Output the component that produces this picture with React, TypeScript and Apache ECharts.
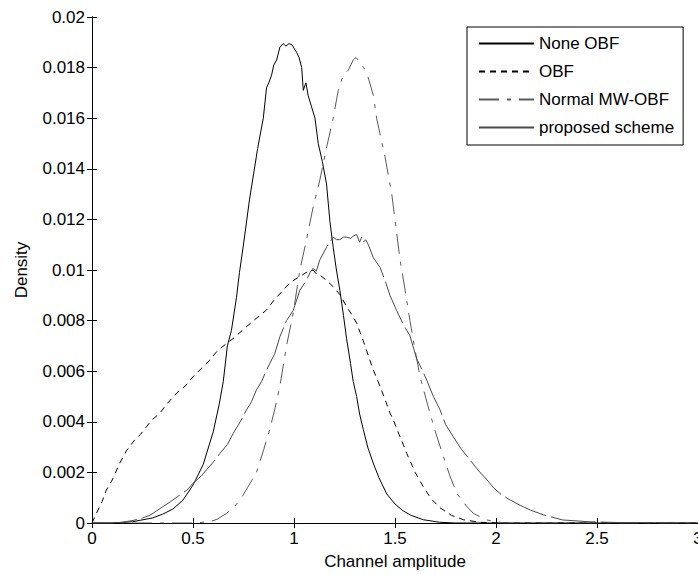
import React, { useEffect, useRef } from "react";
import * as echarts from "echarts";

// Tick values
const xTicks = [0, 0.5, 1, 1.5, 2, 2.5, 3];
const yMax = 0.02;
const yStep = 0.002;

// Series names
const seriesNames = ["None OBF", "OBF", "Normal MW-OBF", "proposed scheme"];

// None OBF  (density in units of 1e-3)
const noneX = [0, 0.1, 0.2, 0.3, 0.35, 0.4, 0.45, 0.5, 0.55, 0.6, 0.63, 0.65, 0.67, 0.69, 0.715, 0.73, 0.748, 0.765, 0.78, 0.8, 0.82, 0.848, 0.864, 0.875, 0.889, 0.9, 0.914, 0.93, 0.946, 0.96, 0.975, 0.99, 1.013, 1.025, 1.038, 1.046, 1.059, 1.07, 1.087, 1.104, 1.12, 1.14, 1.161, 1.178, 1.194, 1.21, 1.227, 1.245, 1.26, 1.28, 1.293, 1.31, 1.325, 1.343, 1.365, 1.392, 1.42, 1.459, 1.5, 1.54, 1.58, 1.64, 1.72, 1.8, 2.0, 3.0];
const noneY = [0, 0, 0.05, 0.2, 0.35, 0.55, 0.9, 1.5, 2.3, 3.6, 4.7, 5.6, 7.0, 7.6, 8.9, 9.9, 10.9, 11.9, 12.8, 13.8, 14.8, 16.0, 17.2, 17.4, 17.7, 18.1, 18.3, 18.8, 18.95, 18.85, 18.95, 18.9, 18.6, 18.4, 18.0, 17.1, 17.4, 16.9, 16.45, 16.0, 15.0, 14.3, 13.4, 11.9, 10.9, 10.0, 9.2, 8.2, 7.3, 6.3, 5.6, 5.0, 4.3, 3.7, 3.0, 2.37, 1.8, 1.15, 0.75, 0.48, 0.3, 0.13, 0.03, 0, 0, 0];

// OBF
const obfX = [0, 0.02, 0.05, 0.071, 0.1, 0.137, 0.17, 0.211, 0.24, 0.269, 0.3, 0.335, 0.37, 0.418, 0.46, 0.5, 0.54, 0.583, 0.62, 0.666, 0.7, 0.765, 0.8, 0.864, 0.9, 0.946, 0.98, 1.0, 1.029, 1.06, 1.095, 1.11, 1.128, 1.16, 1.194, 1.23, 1.26, 1.293, 1.31, 1.343, 1.36, 1.39, 1.426, 1.45, 1.475, 1.492, 1.52, 1.541, 1.558, 1.6, 1.64, 1.68, 1.723, 1.78, 1.838, 1.92, 2.0, 3.0];
const obfY = [0, 0.35, 0.85, 1.3, 1.7, 2.36, 2.85, 3.28, 3.5, 3.8, 4.1, 4.33, 4.7, 5.13, 5.4, 5.78, 6.1, 6.44, 6.8, 7.1, 7.3, 7.76, 8.0, 8.42, 8.8, 9.2, 9.5, 9.6, 9.74, 9.9, 10.0, 9.85, 9.8, 9.6, 9.34, 9.0, 8.55, 8.15, 7.9, 7.2, 6.8, 6.1, 5.4, 4.9, 4.35, 4.07, 3.5, 3.1, 2.75, 2.0, 1.43, 0.95, 0.6, 0.3, 0.13, 0.03, 0, 0];

// Normal MW-OBF
const mwX = [0, 0.5, 0.583, 0.62, 0.666, 0.7, 0.732, 0.77, 0.814, 0.85, 0.88, 0.905, 0.93, 0.963, 0.996, 1.029, 1.062, 1.095, 1.128, 1.16, 1.194, 1.219, 1.244, 1.269, 1.293, 1.307, 1.327, 1.345, 1.36, 1.393, 1.409, 1.45, 1.484, 1.525, 1.55, 1.574, 1.6, 1.624, 1.673, 1.7, 1.74, 1.77, 1.806, 1.85, 1.888, 1.954, 2.04, 3.0];
const mwY = [0, 0, 0.05, 0.15, 0.38, 0.6, 0.9, 1.4, 2.0, 2.9, 3.7, 4.5, 5.4, 7.0, 8.3, 10.0, 11.2, 12.5, 13.56, 14.8, 16.0, 17.1, 17.7, 17.9, 18.3, 18.4, 18.2, 18.0, 17.8, 16.9, 16.0, 14.5, 13.0, 10.4, 9.2, 8.0, 6.8, 5.78, 4.34, 3.6, 2.62, 1.9, 1.17, 0.7, 0.38, 0.12, 0, 0];

// proposed scheme
const propX = [0, 0.1, 0.15, 0.203, 0.25, 0.286, 0.32, 0.352, 0.39, 0.434, 0.47, 0.5, 0.54, 0.567, 0.6, 0.633, 0.67, 0.699, 0.73, 0.765, 0.79, 0.814, 0.84, 0.864, 0.905, 0.93, 0.963, 0.996, 1.029, 1.062, 1.08, 1.095, 1.11, 1.128, 1.161, 1.194, 1.21, 1.227, 1.245, 1.26, 1.28, 1.295, 1.31, 1.325, 1.335, 1.343, 1.355, 1.368, 1.392, 1.426, 1.45, 1.475, 1.508, 1.541, 1.574, 1.607, 1.64, 1.657, 1.69, 1.723, 1.75, 1.789, 1.83, 1.872, 1.91, 1.956, 1.99, 2.03, 2.07, 2.12, 2.17, 2.236, 2.33, 2.46, 2.6, 2.8, 3.0];
const propY = [0, 0, 0.03, 0.1, 0.2, 0.3, 0.48, 0.65, 0.85, 1.1, 1.3, 1.57, 1.85, 2.1, 2.4, 2.75, 3.1, 3.54, 3.95, 4.47, 4.8, 5.26, 5.6, 6.05, 6.7, 7.36, 8.0, 8.4, 9.2, 9.6, 9.9, 10.07, 9.95, 10.4, 10.9, 11.3, 11.2, 11.2, 11.3, 11.3, 11.25, 11.35, 11.4, 11.1, 11.3, 11.1, 11.2, 11.0, 10.5, 10.1, 9.6, 9.0, 8.4, 7.85, 7.4, 6.5, 5.95, 5.65, 5.0, 4.47, 3.9, 3.4, 2.9, 2.49, 2.1, 1.7, 1.37, 1.1, 0.91, 0.7, 0.51, 0.32, 0.12, 0.05, 0.02, 0.01, 0];

const FONT = "'Liberation Sans', Arial, Helvetica, sans-serif";

function pairs(xs: number[], ys: number[]) {
  return xs.map((x, i) => [x, ys[i] * 1e-3]);
}

export default function App() {
  const ref = useRef<HTMLDivElement>(null);
  useEffect(() => {
    document.body.style.margin = "0";
    if (!ref.current) return;
    const chart = echarts.init(ref.current, undefined, { renderer: "svg" });
    const axisCommon = {
      axisLine: { show: true, lineStyle: { color: "#000", width: 1 } },
      axisTick: { show: true, inside: true, length: 5, lineStyle: { color: "#000" } },
      splitLine: { show: false },
    };
    const xMin = xTicks[0];
    const xMax = xTicks[xTicks.length - 1];
    const xInt = xTicks[1] - xTicks[0];
    const fmt = (v: number) => String(+v.toFixed(3));
    chart.setOption({
      animation: false,
      backgroundColor: "#fff",
      grid: { left: 92, top: 17, right: 0, bottom: 52, containLabel: false, outerBoundsMode: "none" },
      xAxis: [
        {
          type: "value", min: xMin, max: xMax, interval: xInt, position: "bottom",
          ...axisCommon,
          axisLabel: { color: "#000", fontSize: 17, fontFamily: FONT, margin: 7, formatter: fmt },
          name: "Channel amplitude", nameLocation: "middle", nameGap: 30,
          nameTextStyle: { color: "#000", fontSize: 17, fontFamily: FONT },
        },
        {
          type: "value", min: xMin, max: xMax, interval: xInt, position: "top",
          ...axisCommon, axisLabel: { show: false },
        },
      ],
      yAxis: [
        {
          type: "value", min: 0, max: yMax, interval: yStep, position: "left",
          ...axisCommon,
          axisLabel: { color: "#000", fontSize: 17, fontFamily: FONT, margin: 7, formatter: fmt },
          name: "Density", nameLocation: "middle", nameGap: 62, nameRotate: 90,
          nameTextStyle: { color: "#000", fontSize: 17, fontFamily: FONT },
        },
        {
          type: "value", min: 0, max: yMax, interval: yStep, position: "right",
          ...axisCommon, axisLabel: { show: false },
        },
      ],
      legend: {
        orient: "vertical",
        left: 467, top: 27,
        padding: [8, 9, 9, 11],
        itemGap: 11, itemWidth: 55, itemHeight: 14,
        borderColor: "#000", borderWidth: 1, borderRadius: 0,
        backgroundColor: "#fff",
        itemStyle: { opacity: 0 },
        textStyle: { color: "#000", fontSize: 17, fontFamily: FONT },
        data: [
          { name: seriesNames[0] },
          { name: seriesNames[1] },
          { name: seriesNames[2] },
          { name: seriesNames[3], lineStyle: { type: "solid" } },
        ],
      },
      series: [
        {
          name: seriesNames[0], type: "line", data: pairs(noneX, noneY),
          symbol: "none", showSymbol: false,
          lineStyle: { color: "#000", width: 1, type: "solid" }, itemStyle: { color: "#000" },
        },
        {
          name: seriesNames[1], type: "line", data: pairs(obfX, obfY),
          symbol: "none", showSymbol: false,
          lineStyle: { color: "#000", width: 1, type: [6, 5] }, itemStyle: { color: "#000" },
        },
        {
          name: seriesNames[2], type: "line", data: pairs(mwX, mwY),
          symbol: "none", showSymbol: false,
          lineStyle: { color: "#5a5a5a", width: 1, type: [20, 8, 4, 8] }, itemStyle: { color: "#5a5a5a" },
        },
        {
          name: seriesNames[3], type: "line", data: pairs(propX, propY),
          symbol: "none", showSymbol: false,
          lineStyle: { color: "#4a4a4a", width: 1, type: [45, 5] }, itemStyle: { color: "#4a4a4a" },
        },
      ],
    });
    return () => chart.dispose();
  }, []);
  return <div ref={ref} style={{ width: 698, height: 575 }} />;
}
